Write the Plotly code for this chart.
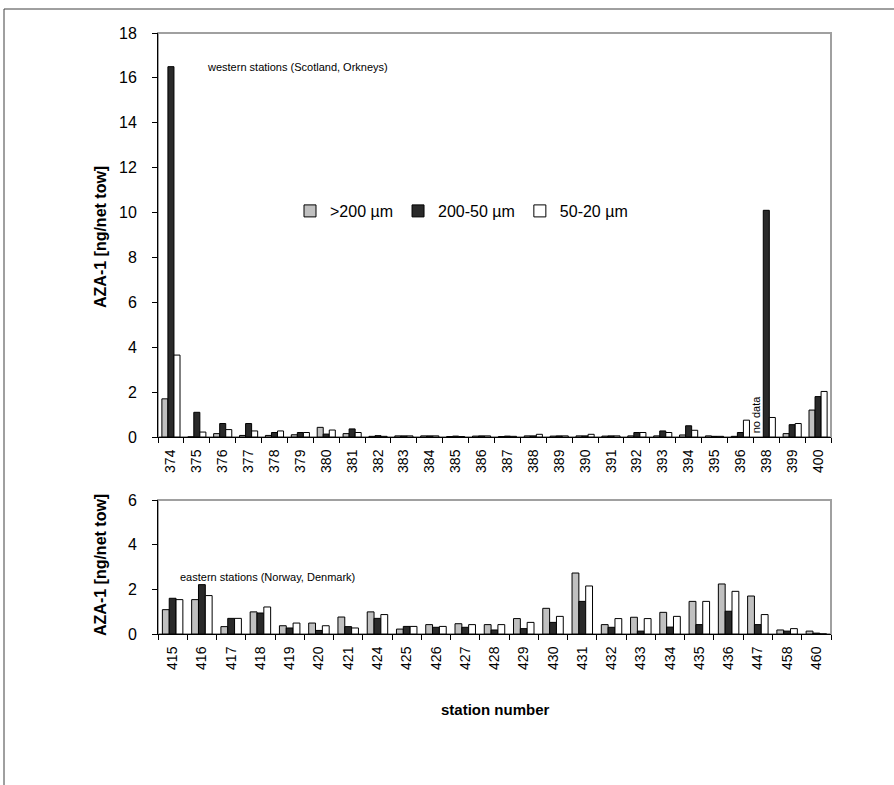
import plotly.graph_objects as go

# ---------- data ----------
west_stations = ["374", "375", "376", "377", "378", "379", "380", "381", "382", "383",
                 "384", "385", "386", "387", "388", "389", "390", "391", "392", "393",
                 "394", "395", "396", "398", "399", "400"]
west_gt200 = [1.7, 0.0, 0.15, 0.07, 0.07, 0.1, 0.43, 0.15, 0.03, 0.05,
              0.05, 0.02, 0.04, 0.02, 0.05, 0.04, 0.05, 0.04, 0.05, 0.05,
              0.09, 0.05, 0.03, None, 0.15, 1.2]
west_200_50 = [16.5, 1.1, 0.6, 0.6, 0.2, 0.2, 0.13, 0.36, 0.06, 0.05,
               0.05, 0.04, 0.05, 0.04, 0.05, 0.05, 0.05, 0.05, 0.2, 0.27,
               0.5, 0.03, 0.2, 10.1, 0.55, 1.8]
west_50_20 = [3.65, 0.22, 0.33, 0.27, 0.27, 0.2, 0.31, 0.2, 0.03, 0.05,
              0.05, 0.02, 0.05, 0.03, 0.12, 0.05, 0.12, 0.05, 0.2, 0.2,
              0.3, 0.03, 0.75, 0.87, 0.6, 2.03]

east_stations = ["415", "416", "417", "418", "419", "420", "421", "424", "425", "426",
                 "427", "428", "429", "430", "431", "432", "433", "434", "435", "436",
                 "447", "458", "460"]
east_gt200 = [1.09, 1.54, 0.33, 0.99, 0.37, 0.49, 0.76, 0.99, 0.22, 0.42,
              0.46, 0.42, 0.69, 1.15, 2.73, 0.42, 0.75, 0.97, 1.46, 2.24,
              1.7, 0.18, 0.13]
east_200_50 = [1.6, 2.21, 0.7, 0.94, 0.27, 0.16, 0.33, 0.7, 0.34, 0.3,
               0.3, 0.18, 0.24, 0.52, 1.46, 0.3, 0.13, 0.31, 0.42, 1.02,
               0.42, 0.13, 0.04]
east_50_20 = [1.54, 1.72, 0.7, 1.21, 0.49, 0.37, 0.27, 0.87, 0.34, 0.34,
              0.42, 0.42, 0.52, 0.79, 2.15, 0.69, 0.69, 0.79, 1.46, 1.91,
              0.87, 0.24, 0.0]

series_names = [">200 µm", "200-50 µm", "50-20 µm"]
series_colors = ["#c0c0c0", "#2a2a2a", "#ffffff"]

FONT = "Liberation Sans, Arial, sans-serif"

fig = go.Figure()

west_vals = [west_gt200, west_200_50, west_50_20]
east_vals = [east_gt200, east_200_50, east_50_20]

for name, col, vals in zip(series_names, series_colors, west_vals):
    fig.add_trace(go.Bar(x=west_stations, y=vals, name=name, legendgroup=name,
                         marker=dict(color=col, line=dict(color="black", width=1)),
                         xaxis="x", yaxis="y"))
for name, col, vals in zip(series_names, series_colors, east_vals):
    fig.add_trace(go.Bar(x=east_stations, y=vals, name=name, legendgroup=name,
                         showlegend=False,
                         marker=dict(color=col, line=dict(color="black", width=1)),
                         xaxis="x2", yaxis="y2"))

W, H = 894, 785
L, R, T, B = 158, 63, 33, 151
PW = W - L - R      # 673
plot_h = H - T - B  # 601
top_dom0 = (634 - 437) / plot_h
bot_dom1 = (634 - 500) / plot_h

axis_common = dict(showgrid=False, zeroline=False, showline=True, linecolor="black",
                   linewidth=1, ticks="outside", ticklen=5, tickcolor="black")

fig.update_layout(
    width=W, height=H,
    margin=dict(l=L, r=R, t=T, b=B),
    paper_bgcolor="white", plot_bgcolor="white",
    font=dict(family=FONT, color="black"),
    barmode="group", bargap=0.3, bargroupgap=0,
    xaxis=dict(domain=[0, 1], anchor="y", type="category", tickson="boundaries",
               range=[-0.5, len(west_stations) - 0.5], ticklabelstandoff=6,
               tickangle=-90, tickfont=dict(size=14), **axis_common),
    yaxis=dict(domain=[top_dom0, 1], anchor="x", range=[0, 18], dtick=2,
               ticklabelstandoff=12, tickfont=dict(size=16), **axis_common),
    xaxis2=dict(domain=[0, 1], anchor="y2", type="category", tickson="boundaries",
                range=[-0.5, len(east_stations) - 0.5], ticklabelstandoff=6,
                tickangle=-90, tickfont=dict(size=14), **axis_common),
    yaxis2=dict(domain=[0, bot_dom1], anchor="x2", range=[0, 6], dtick=2,
                ticklabelstandoff=12, tickfont=dict(size=16), **axis_common),
    legend=dict(orientation="h", x=(290 - L) / PW, xanchor="left",
                y=(634 - 211) / plot_h, yanchor="middle",
                font=dict(size=16), bgcolor="rgba(0,0,0,0)", traceorder="normal",
                itemwidth=30),
    showlegend=True,
)

shapes = []
# gray plot-area borders (top/right)
for xd, yd in (("x domain", "y domain"), ("x2 domain", "y2 domain")):
    shapes.append(dict(type="rect", xref=xd, yref=yd, x0=0, x1=1, y0=0, y1=1,
                       line=dict(color="#a0a0a0", width=2), layer="below"))
# outer frame (left and top lines)
fx = (4 - L) / PW
fy = (634 - 9) / plot_h
shapes.append(dict(type="line", xref="paper", yref="paper", x0=fx, x1=fx, y0=-1, y1=fy,
                   line=dict(color="#404040", width=1)))
shapes.append(dict(type="line", xref="paper", yref="paper", x0=fx, x1=2, y0=fy, y1=fy,
                   line=dict(color="#404040", width=1)))
fig.update_layout(shapes=shapes)

annotations = [
    dict(text="western stations (Scotland, Orkneys)", xref="x domain", yref="y domain",
         x=(205 - L) / PW, y=(437 - 67) / 404, xanchor="left", yanchor="middle",
         showarrow=False, font=dict(size=11)),
    dict(text="eastern stations (Norway, Denmark)", xref="x2 domain", yref="y2 domain",
         x=(178 - L) / PW, y=(634 - 577) / 134, xanchor="left", yanchor="middle",
         showarrow=False, font=dict(size=11)),
    dict(text="no data", xref="x", yref="y", x=west_stations.index("398"), y=0, xshift=-10,
         yshift=2, textangle=-90, xanchor="center", yanchor="bottom", showarrow=False,
         font=dict(size=11)),
    dict(text="<b>AZA-1 [ng/net tow]</b>", xref="paper", yref="paper",
         x=(100 - L) / PW, y=(634 - 237) / plot_h, textangle=-90,
         xanchor="center", yanchor="middle", showarrow=False, font=dict(size=16)),
    dict(text="<b>AZA-1 [ng/net tow]</b>", xref="paper", yref="paper",
         x=(100 - L) / PW, y=(634 - 565) / plot_h, textangle=-90,
         xanchor="center", yanchor="middle", showarrow=False, font=dict(size=16)),
    dict(text="<b>station number</b>", xref="paper", yref="paper",
         x=(495 - L) / PW, y=(634 - 710) / plot_h, xanchor="center", yanchor="middle",
         showarrow=False, font=dict(size=15)),
]
fig.update_layout(annotations=annotations)

fig.write_html("out.html", config={"displayModeBar": False},
               post_script="document.body.style.margin='0';document.body.style.overflow='hidden';")
